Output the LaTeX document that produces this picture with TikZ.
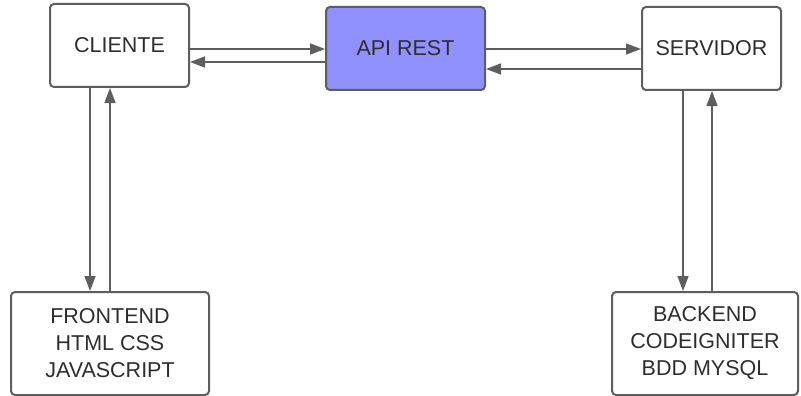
\documentclass[tikz,border=0pt]{standalone}
\usepackage{fontspec}
\setmainfont{Liberation Sans}
\usetikzlibrary{arrows.meta}
\definecolor{edge}{HTML}{5E5E5E}
\definecolor{ink}{HTML}{2E2E2E}
\definecolor{apifill}{HTML}{9090FF}
\begin{document}
\begin{tikzpicture}[x=1pt,y=-1pt,
  box/.style={draw=edge,line width=2pt,rounded corners=4pt,fill=white,text=ink,
    font=\fontsize{21.5}{27}\selectfont,align=center,inner sep=0pt},
  link/.style={draw=edge,line width=1.5pt,-{Triangle[length=15pt,width=11pt]}}]
\useasboundingbox (0,0) rectangle (801,396);
% top row
\node[box,minimum width=139pt,minimum height=83pt] (cli) at (119.5,45.5) {CLIENTE};
\node[box,fill=apifill,minimum width=159pt,minimum height=83pt] (api) at (405.5,48.5) {API REST};
\node[box,minimum width=139pt,minimum height=83pt] (srv) at (711.5,48.5) {SERVIDOR};
% bottom row
\node[box,minimum width=198pt,minimum height=103pt] (fe) at (110,343.5) {FRONTEND\\HTML CSS\\JAVASCRIPT};
\node[box,minimum width=186pt,minimum height=103pt] (be) at (705,343.5) {BACKEND\\CODEIGNITER\\BDD MYSQL};
% horizontal links
\coordinate (a1) at (cli.east |- 0,49);
\coordinate (a2) at (api.west |- 0,49);
\coordinate (b1) at (api.west |- 0,62);
\coordinate (b2) at (cli.east |- 0,62);
\draw[link] (a1) -- (a2);
\draw[link] (b1) -- (b2);
\coordinate (c1) at (api.east |- 0,49);
\coordinate (c2) at (srv.west |- 0,49);
\coordinate (d1) at (srv.west |- 0,69);
\coordinate (d2) at (api.east |- 0,69);
\draw[link] (c1) -- (c2);
\draw[link] (d1) -- (d2);
% vertical links
\coordinate (e1) at (90,0 |- cli.south);
\coordinate (e2) at (90,0 |- fe.north);
\coordinate (f1) at (110,0 |- fe.north);
\coordinate (f2) at (110,0 |- cli.south);
\draw[link] (e1) -- (e2);
\draw[link] (f1) -- (f2);
\coordinate (g1) at (683,0 |- srv.south);
\coordinate (g2) at (683,0 |- be.north);
\coordinate (h1) at (712,0 |- be.north);
\coordinate (h2) at (712,0 |- srv.south);
\draw[link] (g1) -- (g2);
\draw[link] (h1) -- (h2);
\end{tikzpicture}
\end{document}
